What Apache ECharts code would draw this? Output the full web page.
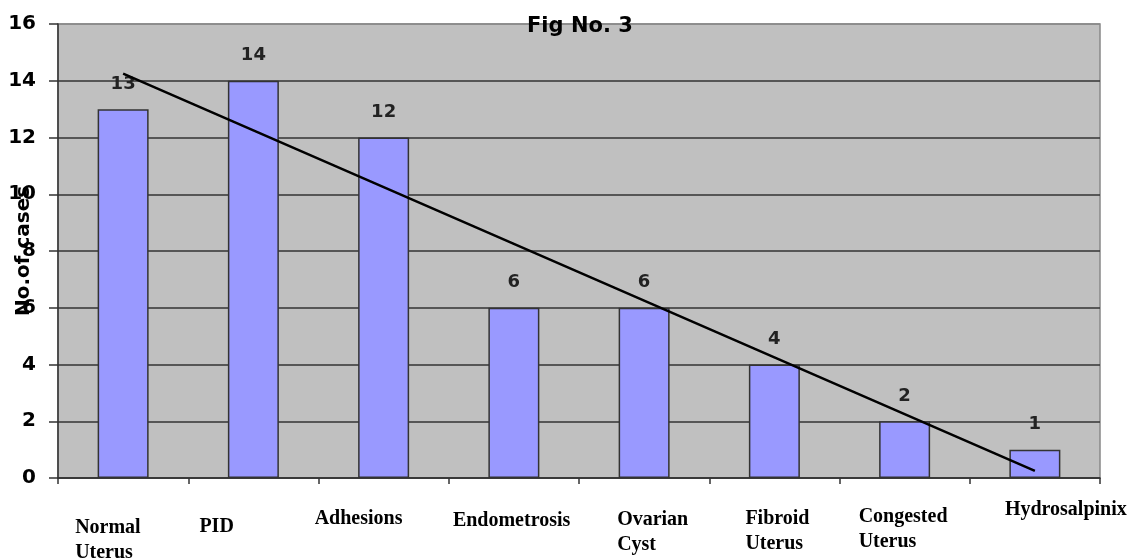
<!DOCTYPE html>
<html>
<head>
<meta charset="utf-8">
<script src="https://cdn.jsdelivr.net/npm/echarts@6/dist/echarts.min.js"></script>
<style>
  html, body { margin: 0; padding: 0; background: #fff; }
  #chart { width: 1130px; height: 558px; }
</style>
</head>
<body>
<div id="chart"></div>
<script>
// categories (line breaks as in the picture)
const categories = [
  "Normal\nUterus", "PID", "Adhesions", "Endometrosis",
  "Ovarian\nCyst", "Fibroid\nUterus", "Congested\nUterus", "Hydrosalpinix"
];
// no. of cases per finding
const cases = [13, 14, 12, 6, 6, 4, 2, 1];
// trend line at each category centre
const trend = [14.25, 12.25, 10.25, 8.25, 6.25, 4.25, 2.25, 0.25];
// y tick range
const yMin = 0;
const yMax = 16;
const yStep = 2;

// label placement tweaks: box width (shifts text left), extra top gap
const labelWidth = [96, 108, 138, 122, 54, 58, 92, 60];
const labelDrop = [18, 17, 9, 11, 10, 9, 7, 0];

const serif = { fontFamily: "Liberation Serif", fontWeight: "bold", fontSize: 20, lineHeight: 25, color: "#000" };
const rich = {};
labelWidth.forEach(function (w, i) {
  rich["t" + i] = Object.assign({ width: w, align: "left" }, serif);
});

const xData = categories.map(function (c, i) {
  return { value: c, textStyle: { padding: [labelDrop[i], 0, 0, 0] } };
});

const chart = echarts.init(document.getElementById("chart"), null, { renderer: "canvas" });

const option = {
  animation: false,
  title: {
    text: "Fig No. 3",
    left: 522,
    top: 11,
    textStyle: { fontFamily: "DejaVu Sans", fontWeight: "bold", fontSize: 21, color: "#000" }
  },
  grid: {
    left: 58, right: 30, top: 24, bottom: 80,
    outerBoundsMode: "none",
    containLabel: false,
    show: true, backgroundColor: "#c0c0c0", borderColor: "#888", borderWidth: 1.5
  },
  xAxis: {
    type: "category",
    data: xData,
    boundaryGap: true,
    axisLine: { lineStyle: { color: "#333", width: 1.5 } },
    axisTick: { show: true, length: 6, lineStyle: { color: "#333", width: 1.5 } },
    axisLabel: {
      interval: 0,
      margin: 19,
      formatter: function (value, idx) {
        return value.split("\n").map(function (p) {
          return "{t" + idx + "|" + p + "}";
        }).join("\n");
      },
      rich: rich
    },
    splitLine: { show: false }
  },
  yAxis: {
    type: "value",
    min: yMin,
    max: yMax,
    interval: yStep,
    name: "No.of cases",
    nameLocation: "middle",
    nameGap: 24,
    nameMoveOverlap: false,
    nameTextStyle: { fontFamily: "DejaVu Sans", fontWeight: "bold", fontSize: 20, color: "#000" },
    axisLine: { show: true, lineStyle: { color: "#333", width: 1.5 } },
    axisTick: { show: true, length: 9, lineStyle: { color: "#333", width: 1.5 } },
    axisLabel: {
      margin: 22,
      fontFamily: "DejaVu Sans", fontWeight: "bold", fontSize: 20, color: "#000"
    },
    splitLine: {
      show: true,
      lineStyle: {
        color: ["#333", "#333", "#333", "#333", "#333", "#333", "#333", "#333", "#888"],
        width: 1.5
      }
    }
  },
  series: [
    {
      name: "cases",
      type: "bar",
      data: cases,
      barWidth: 51,
      itemStyle: { color: "#9999ff", borderColor: "#333", borderWidth: 1.5 },
      label: {
        show: true,
        position: "top",
        distance: 16,
        fontFamily: "DejaVu Sans", fontWeight: "bold", fontSize: 18, color: "#222"
      }
    },
    {
      name: "trend",
      type: "line",
      data: trend,
      showSymbol: false,
      symbol: "none",
      lineStyle: { color: "#000", width: 2.5 },
      z: 5
    }
  ]
};

chart.setOption(option);
</script>
</body>
</html>
